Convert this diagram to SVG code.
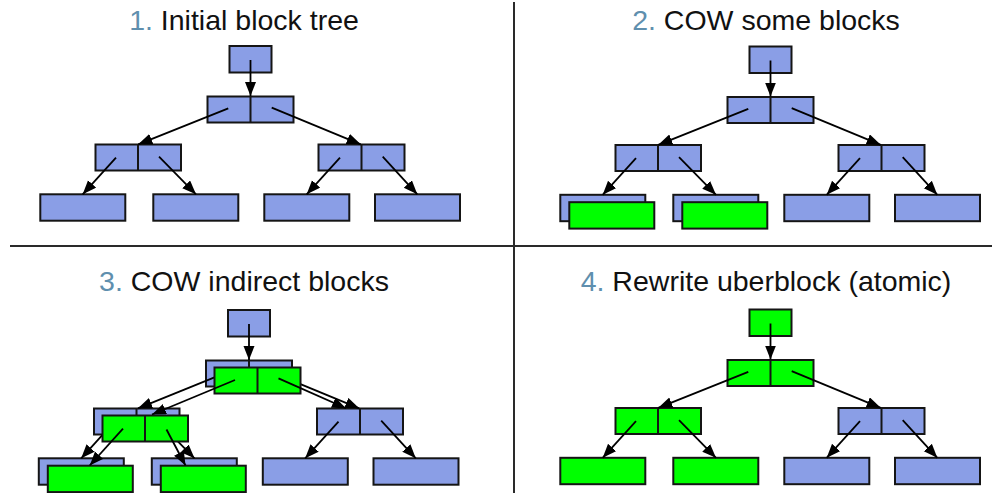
<svg xmlns="http://www.w3.org/2000/svg" width="992" height="493" viewBox="0 0 992 493">
  <style>
    .title { font-family: "Liberation Sans", Arial, sans-serif; font-size: 28.5px; fill: #111; text-anchor: middle; }
    .num { fill: #5f8fae; }
    .blk { stroke: #151515; stroke-width: 2; }
    .old { fill: #8a9ee6; }
    .new { fill: #00ff00; }
    .div { stroke: #151515; stroke-width: 2; }
    .edge { stroke: #000; stroke-width: 1.8; fill: none; marker-end: url(#arrow); }
    .sep { stroke: #2a2a2a; stroke-width: 2; }
  </style>
  <defs>
    <marker id="arrow" markerUnits="userSpaceOnUse" markerWidth="15" markerHeight="12" refX="14" refY="5.5" orient="auto">
      <path d="M0,0 L14,5.5 L0,11 z" fill="#000"/>
    </marker>
  </defs>

  <rect width="992" height="493" fill="#fff"/>

  <!-- quadrant separators -->
  <g id="separators">
    <line class="sep" x1="514" y1="2" x2="514" y2="493"/>
    <line class="sep" x1="10" y1="246" x2="992" y2="246"/>
  </g>

  <!-- titles -->
  <text class="title" x="244" y="29.5"><tspan class="num">1.</tspan> Initial block tree</text>
  <text class="title" x="766" y="29.5"><tspan class="num">2.</tspan> COW some blocks</text>
  <text class="title" x="244" y="290.5"><tspan class="num">3.</tspan> COW indirect blocks</text>
  <text class="title" x="766" y="291"><tspan class="num">4.</tspan> Rewrite uberblock (atomic)</text>

  <!-- ===== 1. initial tree ===== -->
  <g id="tree1">
    <g id="t1-root"><rect class="blk old" x="229.5" y="46" width="42" height="26.5"/></g>
    <g id="t1-mid"><rect class="blk old" x="207.5" y="96.5" width="86" height="26"/><line class="div" x1="250.5" y1="96.5" x2="250.5" y2="122.5"/></g>
    <g id="t1-l2l"><rect class="blk old" x="95.5" y="144.5" width="85.5" height="26"/><line class="div" x1="138" y1="144.5" x2="138" y2="170.5"/></g>
    <g id="t1-l2r"><rect class="blk old" x="318.5" y="144.5" width="86" height="26"/><line class="div" x1="361.5" y1="144.5" x2="361.5" y2="170.5"/></g>
    <g id="t1-leaf1"><rect class="blk old" x="40.3" y="194.3" width="85" height="26.4"/></g>
    <g id="t1-leaf2"><rect class="blk old" x="153.3" y="194.3" width="85" height="26.4"/></g>
    <g id="t1-leaf3"><rect class="blk old" x="264.3" y="194.3" width="85" height="26.4"/></g>
    <g id="t1-leaf4"><rect class="blk old" x="375" y="194.3" width="85" height="26.4"/></g>
    <g id="t1-edges">
      <line class="edge" x1="250.5" y1="60" x2="250.5" y2="96"/>
      <line class="edge" x1="228.3" y1="108.3" x2="138.3" y2="144.3"/>
      <line class="edge" x1="271.7" y1="107.7" x2="360.7" y2="144.3"/>
      <line class="edge" x1="116" y1="157.7" x2="82.7" y2="194.3"/>
      <line class="edge" x1="159" y1="156.7" x2="196" y2="194.3"/>
      <line class="edge" x1="340" y1="157.7" x2="306.7" y2="194.3"/>
      <line class="edge" x1="382.7" y1="156.7" x2="417.3" y2="194.3"/>
    </g>
  </g>

  <!-- ===== 2. copy-on-write of data blocks ===== -->
  <g id="tree2" transform="translate(520,0.5)">
    <g id="t2-root"><rect class="blk old" x="229.5" y="46" width="42" height="26.5"/></g>
    <g id="t2-mid"><rect class="blk old" x="207.5" y="96.5" width="86" height="26"/><line class="div" x1="250.5" y1="96.5" x2="250.5" y2="122.5"/></g>
    <g id="t2-l2l"><rect class="blk old" x="95.5" y="144.5" width="85.5" height="26"/><line class="div" x1="138" y1="144.5" x2="138" y2="170.5"/></g>
    <g id="t2-l2r"><rect class="blk old" x="318.5" y="144.5" width="86" height="26"/><line class="div" x1="361.5" y1="144.5" x2="361.5" y2="170.5"/></g>
    <g id="t2-leaf1"><rect class="blk old" x="40.3" y="194.3" width="85" height="26.4"/></g>
    <g id="t2-leaf2"><rect class="blk old" x="153.3" y="194.3" width="85" height="26.4"/></g>
    <g id="t2-leaf3"><rect class="blk old" x="264.3" y="194.3" width="85" height="26.4"/></g>
    <g id="t2-leaf4"><rect class="blk old" x="375" y="194.3" width="85" height="26.4"/></g>
    <g id="t2-leaf1-new"><rect class="blk new" x="49.3" y="201.7" width="85" height="26.4"/></g>
    <g id="t2-leaf2-new"><rect class="blk new" x="162.3" y="201.7" width="85" height="26.4"/></g>
    <g id="t2-edges">
      <line class="edge" x1="250.5" y1="60" x2="250.5" y2="96"/>
      <line class="edge" x1="228.3" y1="108.3" x2="138.3" y2="144.3"/>
      <line class="edge" x1="271.7" y1="107.7" x2="360.7" y2="144.3"/>
      <line class="edge" x1="116" y1="157.7" x2="82.7" y2="194.3"/>
      <line class="edge" x1="159" y1="156.7" x2="196" y2="194.3"/>
      <line class="edge" x1="340" y1="157.7" x2="306.7" y2="194.3"/>
      <line class="edge" x1="382.7" y1="156.7" x2="417.3" y2="194.3"/>
    </g>
  </g>

  <!-- ===== 3. copy-on-write of indirect blocks ===== -->
  <g id="tree3" transform="translate(-1.5,264)">
    <g id="t3-root"><rect class="blk old" x="229.5" y="46" width="42" height="26.5"/></g>
    <g id="t3-mid"><rect class="blk old" x="207.5" y="96.5" width="86" height="26"/><line class="div" x1="250.5" y1="96.5" x2="250.5" y2="122.5"/></g>
    <g id="t3-l2l"><rect class="blk old" x="95.5" y="144.5" width="85.5" height="26"/><line class="div" x1="138" y1="144.5" x2="138" y2="170.5"/></g>
    <g id="t3-l2r"><rect class="blk old" x="318.5" y="144.5" width="86" height="26"/><line class="div" x1="361.5" y1="144.5" x2="361.5" y2="170.5"/></g>
    <g id="t3-leaf1"><rect class="blk old" x="40.3" y="194.3" width="85" height="26.4"/></g>
    <g id="t3-leaf2"><rect class="blk old" x="153.3" y="194.3" width="85" height="26.4"/></g>
    <g id="t3-leaf3"><rect class="blk old" x="264.3" y="194.3" width="85" height="26.4"/></g>
    <g id="t3-leaf4"><rect class="blk old" x="375" y="194.3" width="85" height="26.4"/></g>
    <!-- pointers of the old blocks -->
    <g id="t3-old-edges">
      <line class="edge" x1="250.5" y1="60" x2="250.5" y2="96"/>
      <line class="edge" x1="228.3" y1="108.3" x2="139.5" y2="144.3"/>
      <line class="edge" x1="271.7" y1="107.7" x2="360.7" y2="144.3"/>
      <line class="edge" x1="116" y1="157.7" x2="82.7" y2="194.3"/>
      <line class="edge" x1="159" y1="156.7" x2="196" y2="194.3"/>
      <line class="edge" x1="340" y1="157.7" x2="306.7" y2="194.3"/>
      <line class="edge" x1="382.7" y1="156.7" x2="417.3" y2="194.3"/>
    </g>
    <g id="t3-mid-new"><rect class="blk new" x="216" y="103.5" width="86" height="26"/><line class="div" x1="259" y1="103.5" x2="259" y2="129.5"/></g>
    <g id="t3-l2l-new"><rect class="blk new" x="104" y="151.5" width="85.5" height="26"/><line class="div" x1="146.5" y1="151.5" x2="146.5" y2="177.5"/></g>
    <g id="t3-leaf1-new"><rect class="blk new" x="49.3" y="201.7" width="85" height="26.4"/></g>
    <g id="t3-leaf2-new"><rect class="blk new" x="162.3" y="201.7" width="85" height="26.4"/></g>
    <!-- pointers of the new blocks -->
    <g id="t3-new-edges">
      <line class="edge" x1="236.5" y1="116" x2="153.5" y2="150.5"/>
      <line class="edge" x1="280" y1="114.4" x2="347.5" y2="144.3"/>
      <line class="edge" x1="124.5" y1="164.7" x2="91.2" y2="201.5"/>
      <line class="edge" x1="168" y1="165.5" x2="187" y2="201.5"/>
    </g>
  </g>

  <!-- ===== 4. uberblock rewritten ===== -->
  <g id="tree4" transform="translate(520,263.5)">
    <g id="t4-root"><rect class="blk new" x="229.5" y="46" width="42" height="26.5"/></g>
    <g id="t4-mid"><rect class="blk new" x="207.5" y="96.5" width="86" height="26"/><line class="div" x1="250.5" y1="96.5" x2="250.5" y2="122.5"/></g>
    <g id="t4-l2l"><rect class="blk new" x="95.5" y="144.5" width="85.5" height="26"/><line class="div" x1="138" y1="144.5" x2="138" y2="170.5"/></g>
    <g id="t4-l2r"><rect class="blk old" x="318.5" y="144.5" width="86" height="26"/><line class="div" x1="361.5" y1="144.5" x2="361.5" y2="170.5"/></g>
    <g id="t4-leaf1"><rect class="blk new" x="40.3" y="194.3" width="85" height="26.4"/></g>
    <g id="t4-leaf2"><rect class="blk new" x="153.3" y="194.3" width="85" height="26.4"/></g>
    <g id="t4-leaf3"><rect class="blk old" x="264.3" y="194.3" width="85" height="26.4"/></g>
    <g id="t4-leaf4"><rect class="blk old" x="375" y="194.3" width="85" height="26.4"/></g>
    <g id="t4-edges">
      <line class="edge" x1="250.5" y1="60" x2="250.5" y2="96"/>
      <line class="edge" x1="228.3" y1="108.3" x2="138.3" y2="144.3"/>
      <line class="edge" x1="271.7" y1="107.7" x2="360.7" y2="144.3"/>
      <line class="edge" x1="116" y1="157.7" x2="82.7" y2="194.3"/>
      <line class="edge" x1="159" y1="156.7" x2="196" y2="194.3"/>
      <line class="edge" x1="340" y1="157.7" x2="306.7" y2="194.3"/>
      <line class="edge" x1="382.7" y1="156.7" x2="417.3" y2="194.3"/>
    </g>
  </g>
</svg>
